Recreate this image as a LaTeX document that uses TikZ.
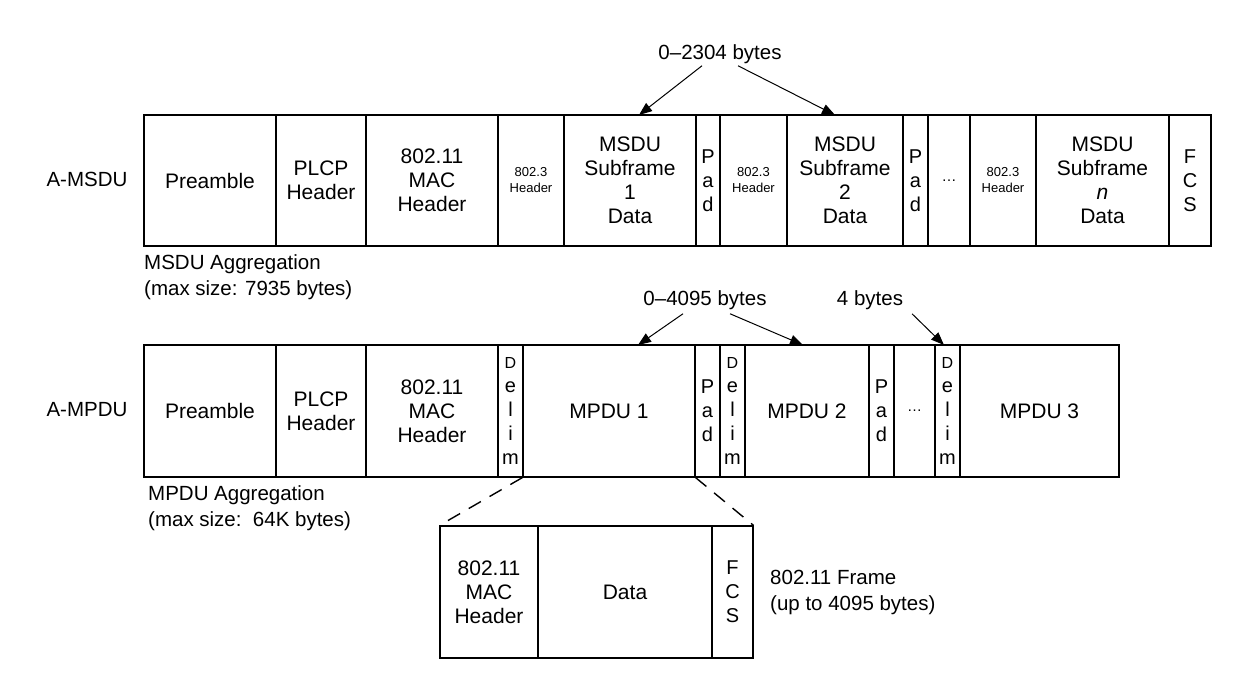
\documentclass[tikz,border=0pt]{standalone}
\usepackage{fontspec}
\setmainfont{Liberation Sans}
\usetikzlibrary{arrows.meta}
\tikzset{
 box/.style={draw,line width=1.1pt,inner sep=0pt,align=center,font=\fontsize{21}{24}\selectfont},
 sm/.style={font=\fontsize{13}{16}\selectfont},
 vt/.style={font=\fontsize{20}{24}\selectfont},
 lbl/.style={font=\fontsize{20.5}{26}\selectfont,align=left,inner sep=0pt},
 arr/.style={-{Triangle[length=13pt,width=10pt]},line width=1pt},
 dsh/.style={line width=1.4pt,dash pattern=on 14pt off 10pt}
}
\newcommand\bx[7][]{\node[box,#1,minimum width={(#4-#3)*1pt},minimum height={(#6-#5)*1pt}] (#2) at ({(#3+#4)/2},{(#5+#6)/2}) {#7};}
\newcommand\delim{\fontsize{16}{22}\selectfont D\\e\\l\\i\\m}
\begin{document}
\begin{tikzpicture}[x=1pt,y=-1pt]
\useasboundingbox (0,0) rectangle (1250,677);
% row 1
\def\ta{115}\def\tb{246}
\bx{a1}{144}{276}{\ta}{\tb}{Preamble}
\bx{a2}{276}{366}{\ta}{\tb}{PLCP\\Header}
\bx{a3}{366}{498}{\ta}{\tb}{802.11\\MAC\\Header}
\bx[sm]{a4}{498}{564}{\ta}{\tb}{802.3\\Header}
\bx{a5}{564}{696}{\ta}{\tb}{MSDU\\Subframe\\1\\Data}
\bx[vt]{a6}{696}{720}{\ta}{\tb}{P\\a\\d}
\bx[sm]{a7}{720}{787}{\ta}{\tb}{802.3\\Header}
\bx{a8}{787}{903}{\ta}{\tb}{MSDU\\Subframe\\2\\Data}
\bx[vt]{a9}{903}{928}{\ta}{\tb}{P\\a\\d}
\bx{a10}{928}{970}{\ta}{\tb}{\fontsize{15}{16}\selectfont\dots}
\bx[sm]{a11}{970}{1036}{\ta}{\tb}{802.3\\Header}
\bx{a12}{1036}{1169}{\ta}{\tb}{MSDU\\Subframe\\\textit{n}\\Data}
\bx[vt]{a13}{1169}{1211}{\ta}{\tb}{F\\C\\S}
\node[lbl] (la) at (87,179) {A-MSDU};
\node[lbl,anchor=north west] (ma) at (144,254) {MSDU Aggregation\\(max size: 7935 bytes)};
\node[lbl] (t1) at (720,54) {0--2304 bytes};
\coordinate (p1) at (639,\ta); \coordinate (p2) at (835,\ta);
\draw[arr] (t1.south) ++(-18,2) -- (p1);
\draw[arr] (t1.south) ++(18,2) -- (p2);
% row 2
\def\ua{345}\def\ub{477}
\bx{b1}{144}{276}{\ua}{\ub}{Preamble}
\bx{b2}{276}{366}{\ua}{\ub}{PLCP\\Header}
\bx{b3}{366}{498}{\ua}{\ub}{802.11\\MAC\\Header}
\bx[vt]{b4}{498}{523}{\ua}{\ub}{\delim}
\bx{b5}{523}{695}{\ua}{\ub}{MPDU 1}
\bx[vt]{b6}{695}{720}{\ua}{\ub}{P\\a\\d}
\bx[vt]{b7}{720}{745}{\ua}{\ub}{\delim}
\bx{b8}{745}{869}{\ua}{\ub}{MPDU 2}
\bx[vt]{b9}{869}{894}{\ua}{\ub}{P\\a\\d}
\bx{b10}{894}{935}{\ua}{\ub}{\fontsize{15}{16}\selectfont\dots}
\bx[vt]{b11}{935}{960}{\ua}{\ub}{\delim}
\bx{b12}{960}{1119}{\ua}{\ub}{MPDU 3}
\node[lbl] (lb) at (87,410) {A-MPDU};
\node[lbl,anchor=north west] (mb) at (148,485) {MPDU Aggregation\\(max size:\ \ 64K bytes)};
\node[lbl] (t2) at (705,300) {0--4095 bytes};
\node[lbl] (t3) at (870,300) {4 bytes};
\coordinate (q1) at (638,\ua); \coordinate (q2) at (803,\ua); \coordinate (q3) at (944,\ua);
\draw[arr] (t2.south) ++(-22,4) -- (q1);
\draw[arr] (t2.south) ++(25,4) -- (q2);
\draw[arr] (t3.south) ++(42,4) -- (q3);
% frame
\def\va{526}\def\vb{658}
\bx{c1}{440}{538}{\va}{\vb}{802.11\\MAC\\Header}
\bx{c2}{538}{712}{\va}{\vb}{Data}
\bx[vt]{c3}{712}{753}{\va}{\vb}{F\\C\\S}
\node[lbl,anchor=west] (fl) at (770,592) {802.11 Frame\\(up to 4095 bytes)};
\draw[dsh] (b5.south west) -- (c1.north west);
\draw[dsh] (b5.south east) -- (c3.north east);
\end{tikzpicture}
\end{document}
